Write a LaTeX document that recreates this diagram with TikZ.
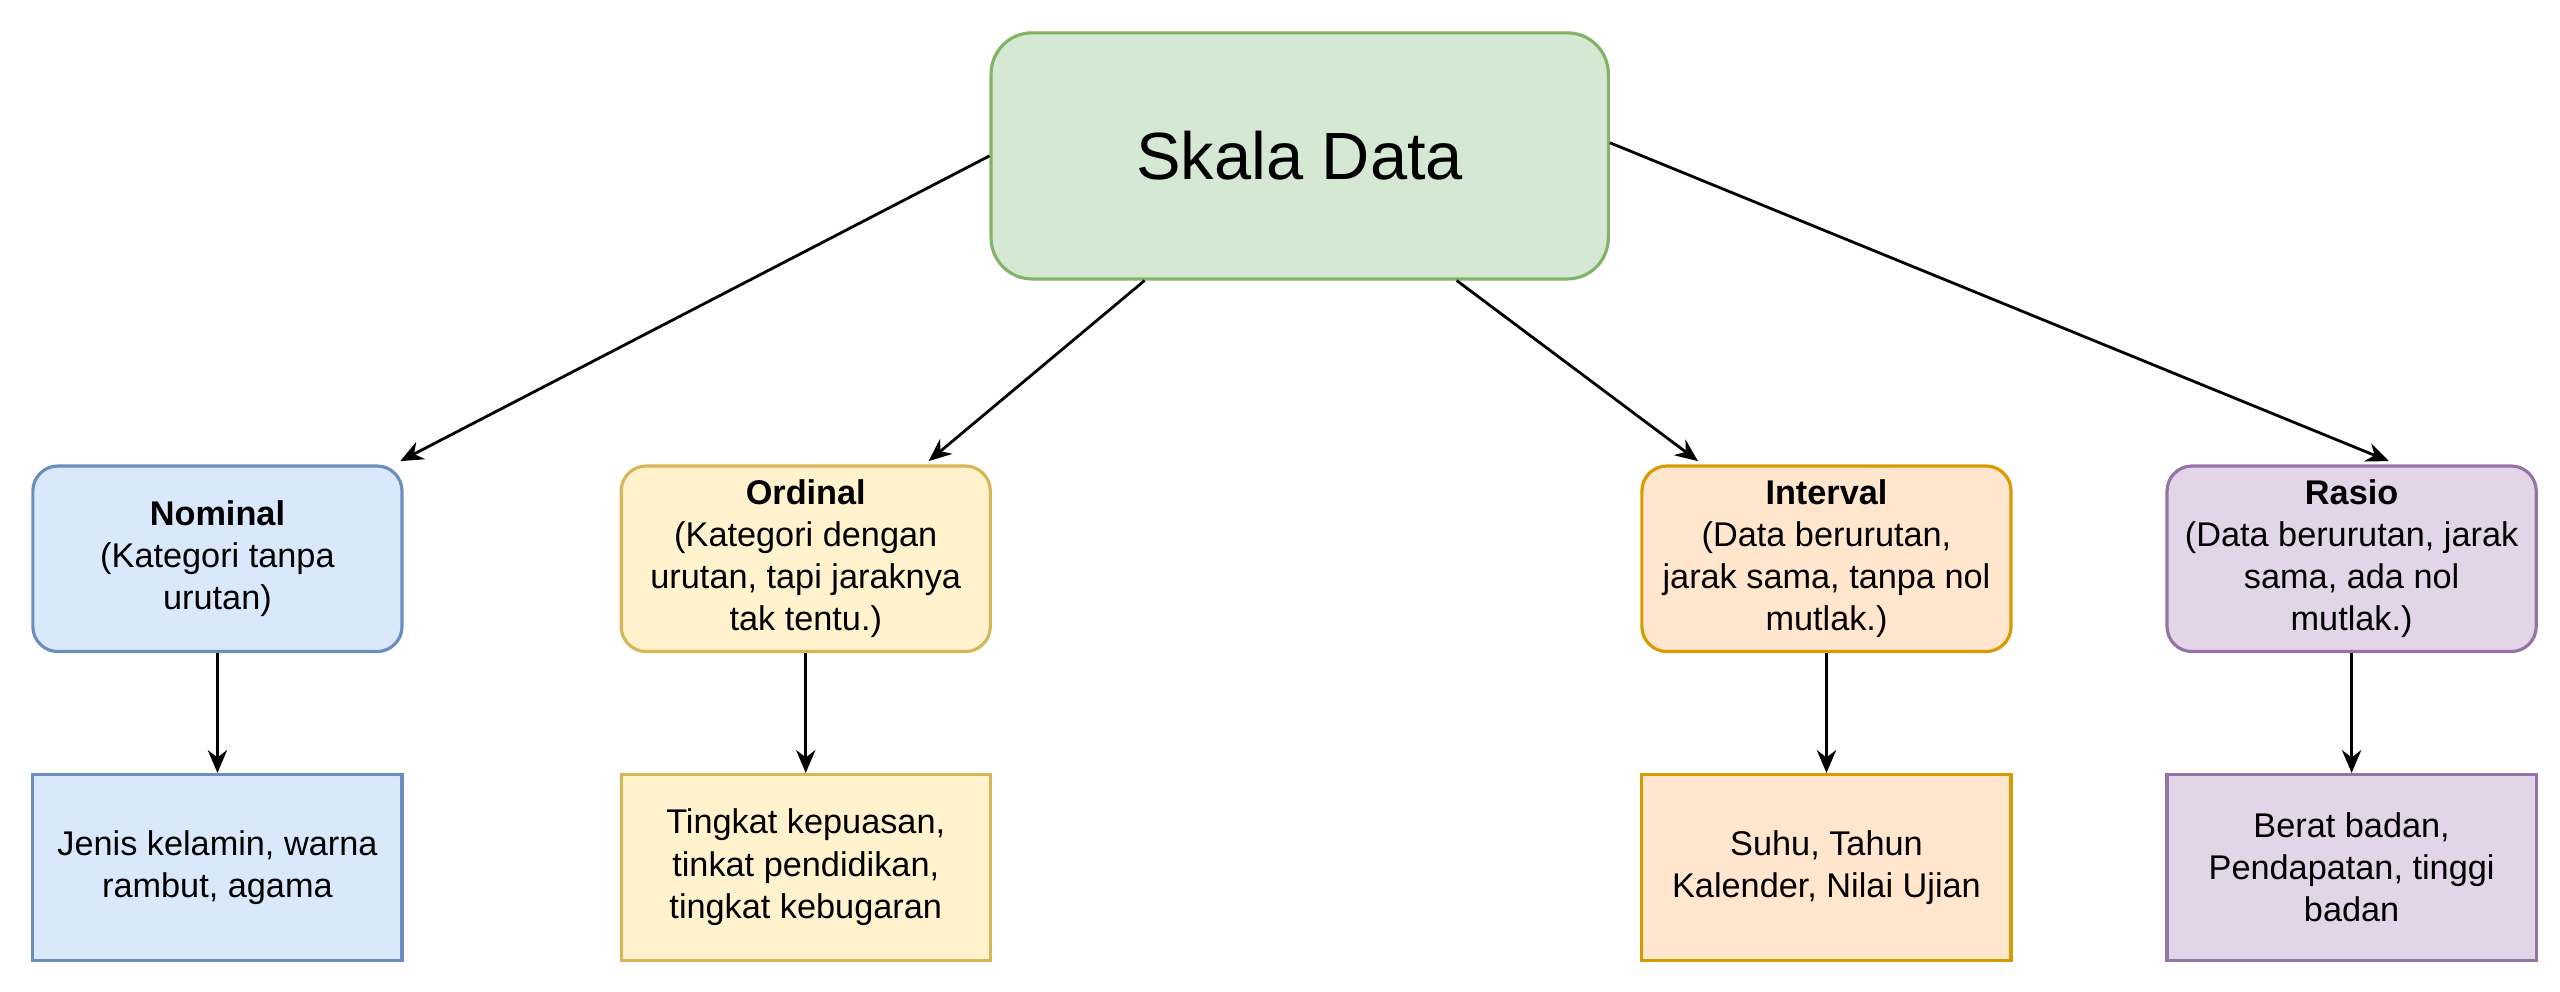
\documentclass[tikz,border=0pt]{standalone}
\usepackage{fontspec}
\setmainfont{Liberation Sans}
\usetikzlibrary{calc,arrows.meta}
\definecolor{gF}{HTML}{D5E8D4}\definecolor{gD}{HTML}{82B366}
\definecolor{bF}{HTML}{DAE8FC}\definecolor{bD}{HTML}{6C8EBF}
\definecolor{yF}{HTML}{FFF2CC}\definecolor{yD}{HTML}{D6B656}
\definecolor{oF}{HTML}{FFE6CC}\definecolor{oD}{HTML}{D79B00}
\definecolor{pF}{HTML}{E1D5E7}\definecolor{pD}{HTML}{9673A6}
\tikzset{
 cat/.style={draw=#1D,fill=#1F,line width=1.8pt,rounded corners=0.5cm,minimum width=7.38cm,minimum height=3.71cm,align=center,font=\fontsize{19.5}{24}\selectfont,inner sep=3pt},
 ex/.style={draw=#1D,fill=#1F,line width=1.8pt,minimum width=7.38cm,minimum height=3.71cm,align=center,font=\fontsize{19.5}{24}\selectfont},
 arr/.style={-{Stealth[length=13pt,width=11pt]},line width=1.6pt}
}
\begin{document}
\begin{tikzpicture}[x=0.0328cm,y=-0.0328cm]
\useasboundingbox (0,0) rectangle (1560,604);
\node[draw=gD,fill=gF,line width=1.8pt,rounded corners=0.82cm,minimum width=12.34cm,minimum height=4.92cm,font=\fontsize{38}{44}\selectfont] (top) at (792,95) {Skala Data};
\node[cat=b] (nom) at (132.5,340.5) {\textbf{Nominal}\\(Kategori tanpa\\urutan)};
\node[cat=y] (ord) at (491,340.5) {\textbf{Ordinal}\\(Kategori dengan\\urutan, tapi jaraknya\\tak tentu.)};
\node[cat=o] (int) at (1113,340.5) {\textbf{Interval}\\(Data berurutan,\\jarak sama, tanpa nol\\mutlak.)};
\node[cat=p] (ras) at (1433,340.5) {\textbf{Rasio}\\(Data berurutan, jarak\\sama, ada nol\\mutlak.)};
\node[ex=b] (nomx) at (132.5,528.5) {Jenis kelamin, warna\\rambut, agama};
\node[ex=y] (ordx) at (491,528.5) {Tingkat kepuasan,\\tinkat pendidikan,\\tingkat kebugaran};
\node[ex=o] (intx) at (1113,528.5) {Suhu, Tahun\\Kalender, Nilai Ujian};
\node[ex=p] (rasx) at (1433,528.5) {Berat badan,\\Pendapatan, tinggi\\badan};
\draw[arr] (top.west) -- ($(nom.north east)+(-2,-2)$);
\draw[arr] ($(top.south west)!0.25!(top.south east)$) -- ($(ord.north west)!0.83!(ord.north east)+(0,-2)$);
\draw[arr] ($(top.south west)!0.753!(top.south east)$) -- ($(int.north west)!0.155!(int.north east)+(0,-2)$);
\draw[arr] ($(top.east)+(0,-8)$) -- ($(ras.north west)!0.6!(ras.north east)+(0,-2)$);
\draw[arr] (nom) -- (nomx);
\draw[arr] (ord) -- (ordx);
\draw[arr] (int) -- (intx);
\draw[arr] (ras) -- (rasx);
\end{tikzpicture}
\end{document}
